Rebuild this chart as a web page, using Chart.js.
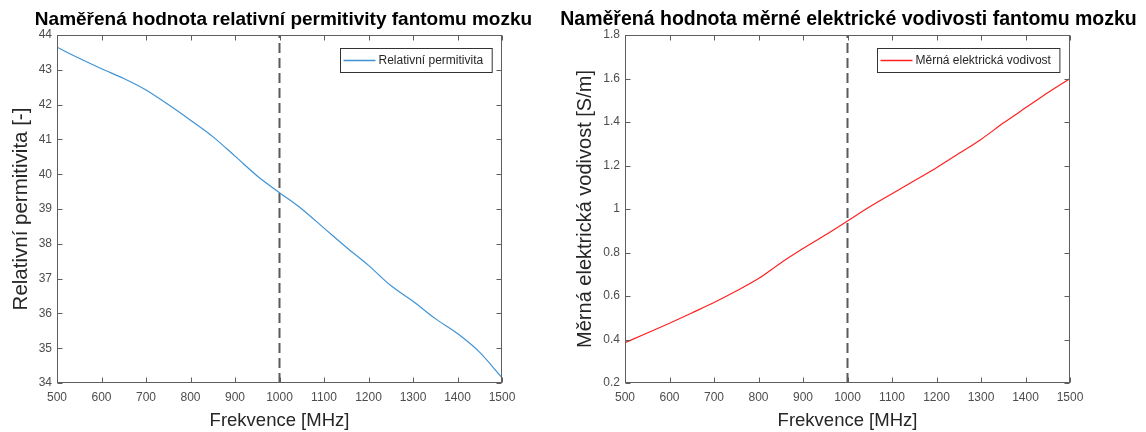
<!DOCTYPE html>
<html>
<head>
<meta charset="utf-8">
<script src="https://cdn.jsdelivr.net/npm/chart.js@4.4.1/dist/chart.umd.min.js"></script>
<style>
  body { margin: 0; background: #fff; width: 1146px; height: 432px; overflow: hidden; position: relative; }
  canvas { position: absolute; top: 0; }
  #permChart { left: 0; }
  #condChart { left: 543px; }
</style>
</head>
<body>
<canvas id="permChart" width="573" height="432"></canvas>
<canvas id="condChart" width="603" height="432"></canvas>
<script>
const frequencies = [500, 550, 600, 650, 700, 750, 800, 850, 900, 950, 1000,
  1050, 1100, 1150, 1200, 1250, 1300, 1350, 1400, 1450, 1500];
const permittivity = [43.65, 43.33, 43.03, 42.75, 42.42, 42.0, 41.55, 41.08, 40.52, 39.95, 39.47,
  39.0, 38.45, 37.9, 37.38, 36.8, 36.35, 35.85, 35.42, 34.88, 34.15];
const conductivity = [0.385, 0.43, 0.475, 0.522, 0.57, 0.623, 0.68, 0.752, 0.818, 0.88, 0.945,
  1.01, 1.07, 1.13, 1.19, 1.255, 1.32, 1.395, 1.465, 1.535, 1.60];
const markerFreq = 1000; // dashed vertical line
const permRange = [34, 44];
const condRange = [0.2, 1.8];

const FONT = "'Liberation Sans', Arial, Helvetica, sans-serif";

// title centred over the plot box, box + inward ticks on all sides, legend top-right
const matlabAxes = {
  id: "matlabAxes",
  afterDatasetsDraw(chart, args, opts) {
    const { ctx, chartArea: a, scales } = chart;
    ctx.save();

    ctx.fillStyle = "#000";
    ctx.font = "bold " + opts.titleSize + "px " + FONT;
    ctx.textAlign = "center";
    ctx.textBaseline = "alphabetic";
    ctx.fillText(opts.title, (a.left + a.right) / 2 + opts.titleShift, 25);
    ctx.textAlign = "left";

    ctx.strokeStyle = "#5e5e5e";
    ctx.lineWidth = 1;
    const L = Math.round(a.left) + 0.5, R = Math.round(a.right) - 0.5;
    const T = Math.round(a.top) + 0.5, B = Math.round(a.bottom) - 0.5;
    ctx.strokeRect(L, T, R - L, B - T);
    ctx.beginPath();
    scales.x.ticks.forEach(t => {
      const px = Math.round(scales.x.getPixelForValue(t.value)) + 0.5;
      ctx.moveTo(px, B); ctx.lineTo(px, B - 5);
      ctx.moveTo(px, T); ctx.lineTo(px, T + 5);
    });
    scales.y.ticks.forEach(t => {
      const py = Math.round(scales.y.getPixelForValue(t.value)) + 0.5;
      ctx.moveTo(L, py); ctx.lineTo(L + 5, py);
      ctx.moveTo(R, py); ctx.lineTo(R - 5, py);
    });
    ctx.stroke();

    // legend
    const ds = chart.data.datasets.filter(d => d.label);
    ctx.font = "12px " + FONT;
    ds.forEach((d, i) => {
      const tw = ctx.measureText(d.label).width;
      const w = 3 + 32 + 3 + tw + 9;
      const h = 24;
      const x0 = Math.round(R - 10 - w) + 0.5;
      const y0 = T + 13 + i * h;
      ctx.fillStyle = "#fff";
      ctx.fillRect(x0, y0, w, h);
      ctx.strokeStyle = "#333";
      ctx.lineWidth = 1;
      ctx.strokeRect(x0, y0, w, h);
      ctx.strokeStyle = d.borderColor;
      ctx.lineWidth = 1.5;
      ctx.beginPath();
      ctx.moveTo(x0 + 3, y0 + h / 2);
      ctx.lineTo(x0 + 35, y0 + h / 2);
      ctx.stroke();
      ctx.fillStyle = "#262626";
      ctx.textBaseline = "middle";
      ctx.fillText(d.label, x0 + 38, y0 + h / 2 + 0.5);
    });
    ctx.restore();
  }
};

function makeChart(canvasId, cfg) {
  const points = frequencies.map((f, i) => ({ x: f, y: cfg.values[i] }));
  const marker = [{ x: markerFreq, y: cfg.range[0] }, { x: markerFreq, y: cfg.range[1] }];
  return new Chart(document.getElementById(canvasId), {
    type: "line",
    data: {
      datasets: [
        {
          label: cfg.label,
          data: points,
          borderColor: cfg.color,
          borderWidth: 1.2,
          pointRadius: 0,
          cubicInterpolationMode: "monotone",
        },
        {
          data: marker,
          borderColor: "#5a5a5a",
          borderWidth: 2,
          borderDash: [10, 5],
          pointRadius: 0,
        },
      ],
    },
    options: {
      responsive: false,
      animation: false,
      devicePixelRatio: 1,
      layout: { padding: { left: 0, right: cfg.padRight, top: 35, bottom: 0 } },
      plugins: {
        legend: { display: false },
        tooltip: { enabled: false },
        title: { display: false },
        matlabAxes: { title: cfg.title, titleSize: cfg.titleSize, titleShift: cfg.titleShift },
      },
      scales: {
        x: {
          type: "linear",
          min: 500,
          max: 1500,
          grid: { display: false, drawTicks: false },
          border: { display: false },
          ticks: {
            stepSize: 100,
            padding: 7,
            color: "#4d4d4d",
            font: { family: FONT, size: 12 },
            callback: v => String(v),
          },
          title: {
            display: true,
            text: "Frekvence [MHz]",
            color: "#262626",
            font: { family: FONT, size: 18.5 },
            padding: { top: 0, bottom: 0 },
          },
          afterFit: s => { s.height = 49; },
        },
        y: {
          min: cfg.range[0],
          max: cfg.range[1],
          grid: { display: false, drawTicks: false },
          border: { display: false },
          ticks: {
            stepSize: cfg.step,
            padding: 5,
            color: "#4d4d4d",
            font: { family: FONT, size: 12 },
            callback: v => String(+v.toFixed(1)),
          },
          title: {
            display: true,
            text: cfg.yTitle,
            color: "#262626",
            font: { family: FONT, size: cfg.yTitleSize },
            padding: { top: cfg.yTitlePad, bottom: 0 },
          },
          afterFit: s => { s.width = cfg.axisWidth; },
        },
      },
    },
    plugins: [matlabAxes],
  });
}

makeChart("permChart", {
  title: "Naměřená hodnota relativní permitivity fantomu mozku",
  titleSize: 19,
  titleShift: 4,
  label: "Relativní permitivita",
  yTitle: "Relativní permitivita [-]",
  yTitleSize: 20.5,
  values: permittivity,
  range: permRange,
  step: 1,
  color: "#3f93d6",
  axisWidth: 57,
  padRight: 71,
  yTitlePad: 9,
});

makeChart("condChart", {
  title: "Naměřená hodnota měrné elektrické vodivosti fantomu mozku",
  titleSize: 19.5,
  titleShift: 1,
  label: "Měrná elektrická vodivost",
  yTitle: "Měrná elektrická vodivost [S/m]",
  yTitleSize: 20,
  values: conductivity,
  range: condRange,
  step: 0.2,
  color: "#ff2020",
  axisWidth: 82,
  padRight: 76,
  yTitlePad: 30,
});
</script>
</body>
</html>
